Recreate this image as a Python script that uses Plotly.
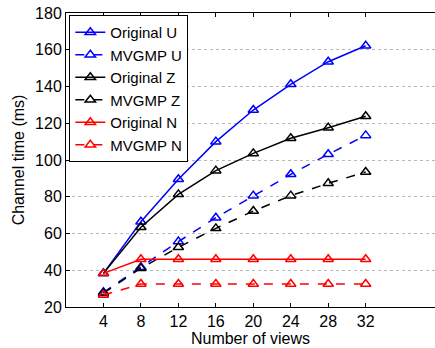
import plotly.graph_objects as go

views = [4, 8, 12, 16, 20, 24, 28, 32]
orig_u = [38.3, 66.4, 89.5, 110.0, 127.2, 141.2, 153.5, 162.2]
mvgmp_u = [28.0, 41.6, 55.6, 68.6, 80.6, 92.2, 103.1, 113.4]
orig_z = [38.3, 63.4, 81.3, 94.2, 103.6, 111.8, 117.6, 123.8]
mvgmp_z = [27.5, 41.1, 52.5, 62.8, 72.2, 80.6, 87.3, 93.5]
orig_n = [38.3, 46.0, 46.0, 46.0, 46.0, 46.0, 46.0, 46.0]
mvgmp_n = [26.5, 32.5, 32.5, 32.5, 32.5, 32.5, 32.5, 32.5]
y_ticks = [20, 40, 60, 80, 100, 120, 140, 160, 180]

series = [
    ("Original U", orig_u, "#0000ff", "solid"),
    ("MVGMP U", mvgmp_u, "#0000ff", "dash"),
    ("Original Z", orig_z, "#000000", "solid"),
    ("MVGMP Z", mvgmp_z, "#000000", "dash"),
    ("Original N", orig_n, "#ff0000", "solid"),
    ("MVGMP N", mvgmp_n, "#ff0000", "dash"),
]

fig = go.Figure()
for name, vals, color, dash in series:
    fig.add_trace(go.Scatter(
        x=views, y=vals, name=name, mode="lines+markers",
        line=dict(color=color, width=1.5, dash=dash),
        marker=dict(symbol="triangle-up-open", size=9, color=color, line=dict(width=1.5, color=color)),
    ))

font = dict(family="Liberation Sans, Arial, Helvetica, sans-serif", size=16, color="#000000")
fig.update_layout(
    width=435, height=348,
    margin=dict(l=66, r=0, t=13, b=41),
    paper_bgcolor="white", plot_bgcolor="white",
    font=font,
    showlegend=True,
    legend=dict(x=0.009, y=0.993, xanchor="left", yanchor="top",
                bgcolor="white", bordercolor="black", borderwidth=1,
                font=dict(family=font["family"], size=15, color="black"),
                tracegroupgap=0, itemwidth=30),
)
fig.update_xaxes(
    range=[0, 39.4], tickvals=views, ticktext=[str(v) for v in views],
    showgrid=False, zeroline=False,
    showline=True, linecolor="black", linewidth=1, mirror="ticks",
    ticks="inside", ticklen=4, tickcolor="black",
    title=dict(text="Number of views", standoff=0, font=font),
)
fig.update_yaxes(
    range=[20, 180], tickvals=y_ticks,
    showgrid=True, gridcolor="#b8b8b8", griddash="dot", gridwidth=1,
    zeroline=False,
    showline=True, linecolor="black", linewidth=1, mirror=False,
    ticks="inside", ticklen=4, tickcolor="black",
    title=dict(text="Channel time (ms)", standoff=6, font=font),
)
fig.write_html("out.html")
